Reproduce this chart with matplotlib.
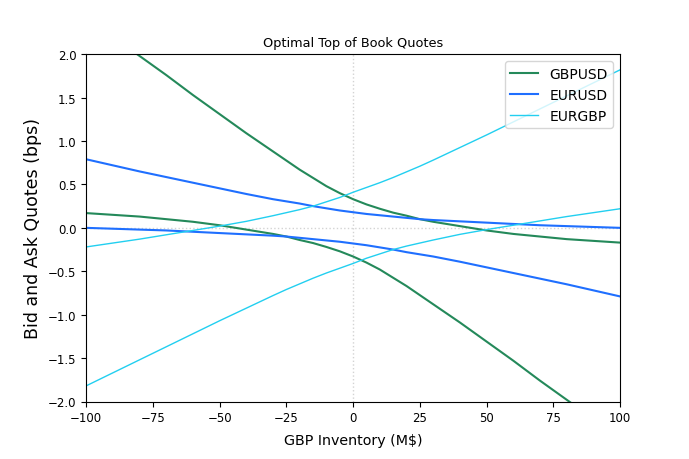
import numpy as np
import matplotlib
matplotlib.use("Agg")
import matplotlib.pyplot as plt

# inventory grid (M$)
inventory = [-100, -90, -80, -70, -60, -50, -40, -30, -25, -20, -15, -10, -5, 0,
             5, 10, 15, 20, 25, 30, 40, 50, 60, 70, 80, 90, 100]

# quotes (bps)
gbpusd_ask = [2.42, 2.20, 1.98, 1.76, 1.53, 1.31, 1.09, 0.88, 0.775, 0.67, 0.575, 0.48, 0.40, 0.33,
              0.27, 0.22, 0.175, 0.14, 0.10, 0.07, 0.02, -0.03, -0.07, -0.10, -0.13, -0.15, -0.17]
gbpusd_bid = [0.17, 0.15, 0.13, 0.10, 0.07, 0.03, -0.02, -0.07, -0.10, -0.14, -0.175, -0.22, -0.27, -0.33,
              -0.40, -0.48, -0.575, -0.67, -0.775, -0.88, -1.09, -1.31, -1.53, -1.76, -1.98, -2.20, -2.42]
eurusd_ask = [0.79, 0.72, 0.65, 0.585, 0.52, 0.455, 0.39, 0.33, 0.305, 0.28, 0.25, 0.225, 0.20, 0.18,
              0.16, 0.145, 0.13, 0.115, 0.10, 0.09, 0.075, 0.06, 0.045, 0.03, 0.02, 0.01, 0.0]
eurusd_bid = [0.0, -0.01, -0.02, -0.03, -0.045, -0.06, -0.075, -0.09, -0.10, -0.115, -0.13, -0.145, -0.16, -0.18,
              -0.20, -0.225, -0.25, -0.28, -0.305, -0.33, -0.39, -0.455, -0.52, -0.585, -0.65, -0.72, -0.79]
eurgbp_ask = [-0.22, -0.175, -0.13, -0.08, -0.03, 0.02, 0.075, 0.14, 0.175, 0.21, 0.25, 0.30, 0.35, 0.41,
              0.465, 0.52, 0.58, 0.645, 0.71, 0.78, 0.925, 1.07, 1.22, 1.37, 1.52, 1.67, 1.82]
eurgbp_bid = [-1.82, -1.67, -1.52, -1.37, -1.22, -1.07, -0.925, -0.78, -0.71, -0.645, -0.58, -0.52, -0.465, -0.41,
              -0.35, -0.30, -0.25, -0.21, -0.175, -0.14, -0.075, -0.02, 0.03, 0.08, 0.13, 0.175, 0.22]

c_gbpusd = '#24895a'
c_eurusd = '#1f6fff'
c_eurgbp = '#22cff0'

fig, ax = plt.subplots(figsize=(6.89, 4.6), dpi=100)
fig.subplots_adjust(left=0.125, right=0.9, top=0.88, bottom=0.125)

ax.axhline(0, color='lightgrey', ls=':', lw=1, zorder=0)
ax.axvline(0, color='lightgrey', ls=':', lw=1, zorder=0)

ax.plot(inventory, gbpusd_ask, c=c_gbpusd, lw=1.5, label='GBPUSD')
ax.plot(inventory, gbpusd_bid, c=c_gbpusd, lw=1.5)
ax.plot(inventory, eurusd_ask, c=c_eurusd, lw=1.5, label='EURUSD')
ax.plot(inventory, eurusd_bid, c=c_eurusd, lw=1.5)
ax.plot(inventory, eurgbp_ask, c=c_eurgbp, lw=1.0, label='EURGBP')
ax.plot(inventory, eurgbp_bid, c=c_eurgbp, lw=1.0)

ax.set_xlim(-100, 100)
ax.set_ylim(-2, 2)
ax.tick_params(labelsize=8.5)
ax.set_title('Optimal Top of Book Quotes', fontsize=9.3)
ax.set_xlabel('GBP Inventory (M$)', fontsize=10.3, labelpad=6)
ax.set_ylabel('Bid and Ask Quotes (bps)', fontsize=12.5)
ax.legend(loc='upper right', fontsize=10)

fig.savefig('out.png', dpi=100)
